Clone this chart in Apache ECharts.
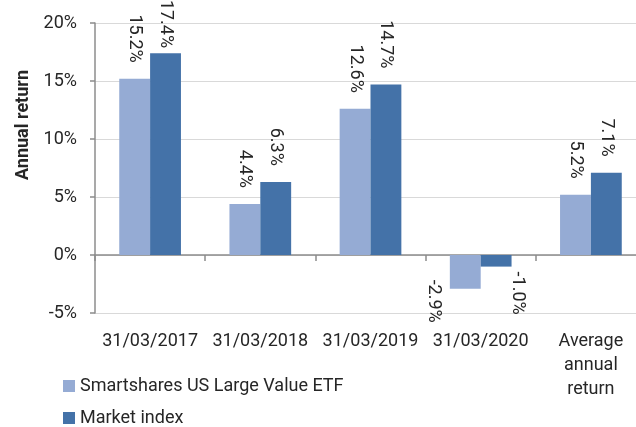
<!DOCTYPE html>
<html><head><meta charset="utf-8">
<script src="https://cdn.jsdelivr.net/npm/echarts@6/dist/echarts.min.js"></script>
<style>html,body{margin:0;padding:0;background:#fff}#c{width:636px;height:427px}</style>
</head><body><div id="c"></div>
<script>
const categories = ['31/03/2017','31/03/2018','31/03/2019','31/03/2020','Average\nannual\nreturn'];
const etfValues = [15.2, 4.4, 12.6, -2.9, 5.2];
const indexValues = [17.4, 6.3, 14.7, -1.0, 7.1];
const seriesNames = ['Smartshares US Large Value ETF','Market index'];
const yTicks = [-5, 0, 5, 10, 15, 20];

const FONT = 'Roboto';
const TXT = '#262626';
function lbl(v){ return v.toFixed(1) + '%'; }
// per-item label adjustments (label placement only)
function mkData(vals, adj){
  return vals.map((v,i)=>{
    const item = {value: v};
    if (v < 0) item.label = {position:'bottom', align:'left', distance: 5};
    if (adj[i]) item.label = Object.assign(item.label || {}, adj[i]);
    return item;
  });
}
const chart = echarts.init(document.getElementById('c'), null, {renderer:'canvas'});
const baseLabel = {
  show: true, position: 'top', distance: 16, rotate: -90, align: 'right', verticalAlign: 'middle',
  fontFamily: FONT, fontSize: 18, color: TXT,
  formatter: p => lbl(p.value)
};
const legendBase = {
  orient: 'vertical', left: 63, itemWidth: 12, itemHeight: 12,
  icon: 'rect', textStyle: {fontFamily: FONT, fontSize: 18, color: TXT}, padding: 0
};
chart.setOption({
  animation: false,
  textStyle: {fontFamily: FONT},
  grid: {left: 95, width: 551, top: 23, bottom: 114, containLabel: false, outerBoundsMode: 'none'},
  legend: [
    Object.assign({}, legendBase, {top: 377, data: [seriesNames[0]]}),
    Object.assign({}, legendBase, {top: 409, data: [seriesNames[1]]})
  ],
  xAxis: [{
    type: 'category', data: categories, position: 'bottom',
    axisLine: {show: false, onZero: false}, axisTick: {show: false},
    axisLabel: {fontFamily: FONT, fontSize: 18, color: TXT, margin: 16, lineHeight: 24, interval: 0},
    splitLine: {show: false}
  },{
    type: 'category', data: categories, position: 'bottom',
    axisLine: {show: true, onZero: true, lineStyle: {color: '#8c8c8c', width: 1.5}},
    axisTick: {show: true, length: 6, lineStyle: {color: '#8c8c8c', width: 1.5}},
    axisLabel: {show: false}, splitLine: {show: false}
  }],
  yAxis: {
    type: 'value', min: -5, max: 20, interval: 5,
    name: 'Annual return', nameLocation: 'middle', nameGap: 63,
    nameTextStyle: {fontFamily: FONT, fontSize: 18, fontWeight: 'bold', color: TXT, padding: [0, 0, 0, 86]},
    axisLine: {show: true, lineStyle: {color: '#8c8c8c', width: 1.5}},
    axisTick: {show: true, length: 5, lineStyle: {color: '#8c8c8c', width: 1.5}},
    axisLabel: {fontFamily: FONT, fontSize: 18, color: TXT, margin: 18, formatter: v => v + '%'},
    splitLine: {show: true, lineStyle: {color: '#d9d9d9', width: 1}}
  },
  series: [{
    name: seriesNames[0], type: 'bar', xAxisIndex: 0,
    data: mkData(etfValues, {3: {distance: 5, offset: [-14, 32]}}),
    itemStyle: {color: '#95abd4'}, barGap: '0%', barCategoryGap: '44%', label: baseLabel
  },{
    name: seriesNames[1], type: 'bar', xAxisIndex: 0,
    data: mkData(indexValues, {0: {distance: 5}, 3: {distance: 5, offset: [0, -21]}}),
    itemStyle: {color: '#4472a8'}, barGap: '0%', barCategoryGap: '44%', label: baseLabel
  }]
});
</script></body></html>
